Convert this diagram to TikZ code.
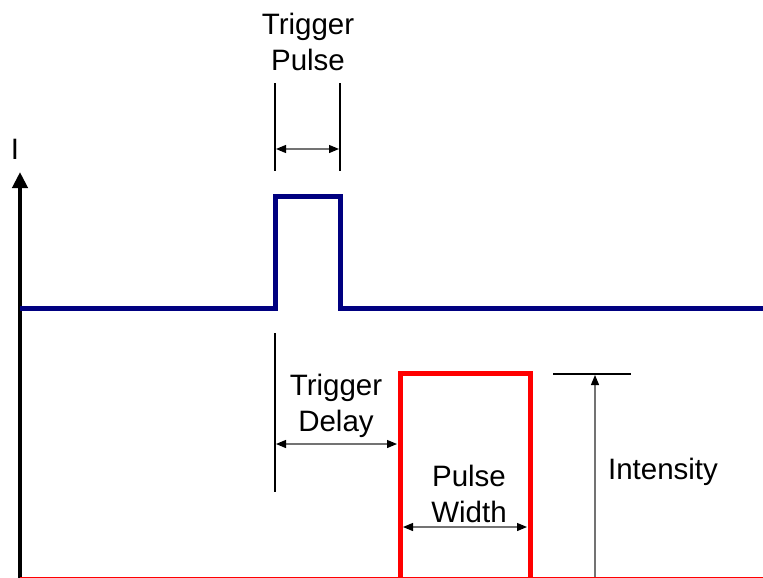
\documentclass[tikz,border=0pt]{standalone}
\usepackage{fontspec}
\setmainfont{Liberation Sans}
\usetikzlibrary{arrows.meta}
\definecolor{trig}{RGB}{0,0,128}
\definecolor{pulsered}{RGB}{255,0,0}
\tikzset{
  lbl/.style={font=\fontsize{29.5}{35.4}\selectfont, align=center, inner sep=0pt},
  dim/.style={draw=black!55, line width=1.2pt, {Triangle[length=10pt,width=8pt,fill=black,color=black]}-{Triangle[length=10pt,width=8pt,fill=black,color=black]}},
  sdim/.style={draw=black!55, line width=1.2pt, -{Triangle[length=10pt,width=8pt,color=black]}},
  ext/.style={draw=black, line width=1.6pt},
  blue/.style={draw=trig, line width=5pt},
  red/.style={draw=pulsered, line width=5pt},
}
\begin{document}
\begin{tikzpicture}[x=1pt,y=-1pt]
\useasboundingbox (0,0) rectangle (763,578);
% axes
\coordinate (o) at (20,578);
\coordinate (ytop) at (20,172);
\coordinate (xend) at (763,577);
\draw[line width=4pt, -{Triangle[length=16pt,width=15pt]}] (o) -- (ytop);
\draw[draw=pulsered, line width=1pt] (20,577.2) -- (xend |- 0,577.2);
\node[lbl] (ilbl) at (15,149) {I};
% trigger trace
\coordinate (b0) at (20,308);
\coordinate (b1) at (275,308);
\coordinate (b2) at (275,196);
\coordinate (b3) at (340,196);
\coordinate (b4) at (340,308);
\coordinate (b5) at (763,308);
\draw[blue] (b0) -- (b1) -- (b2) -- (b3) -- (b4) -- (b5);
% trigger pulse dimension
\coordinate (tp1a) at (275,83);
\coordinate (tp1b) at (275,171);
\coordinate (tp2a) at (340,83);
\coordinate (tp2b) at (340,171);
\draw[ext] (tp1a) -- (tp1b);
\draw[ext] (tp2a) -- (tp2b);
\coordinate (tpl) at (276,149);
\coordinate (tpr) at (339,149);
\draw[dim] (tpl) -- (tpr);
\node[lbl] (tplbl) at (308,42) {Trigger\\Pulse};
% red pulse
\coordinate (r0) at (400,578);
\coordinate (r1) at (400,373);
\coordinate (r2) at (530,373);
\coordinate (r3) at (530,578);
\draw[red] (r0) -- (r1) -- (r2) -- (r3);
% trigger delay
\coordinate (tda) at (275,333);
\coordinate (tdb) at (275,492);
\draw[ext] (tda) -- (tdb);
\coordinate (tdl) at (276,444);
\coordinate (tdr) at (397,444);
\draw[dim] (tdl) -- (tdr);
\node[lbl] (tdlbl) at (336,406) {Trigger\\Delay};
% pulse width
\coordinate (pwl) at (403,527);
\coordinate (pwr) at (527,527);
\draw[dim] (pwl) -- (pwr);
\node[lbl] (pwlbl) at (469,494) {Pulse\\Width};
% intensity
\coordinate (ia) at (553,374);
\coordinate (ib) at (631,374);
\draw[ext] (ia) -- (ib);
\coordinate (ibot) at (595,577);
\coordinate (itop) at (595,375);
\draw[sdim] (ibot) -- (itop);
\node[lbl] (ilbl2) at (663,472) {Intensity};
\end{tikzpicture}
\end{document}
